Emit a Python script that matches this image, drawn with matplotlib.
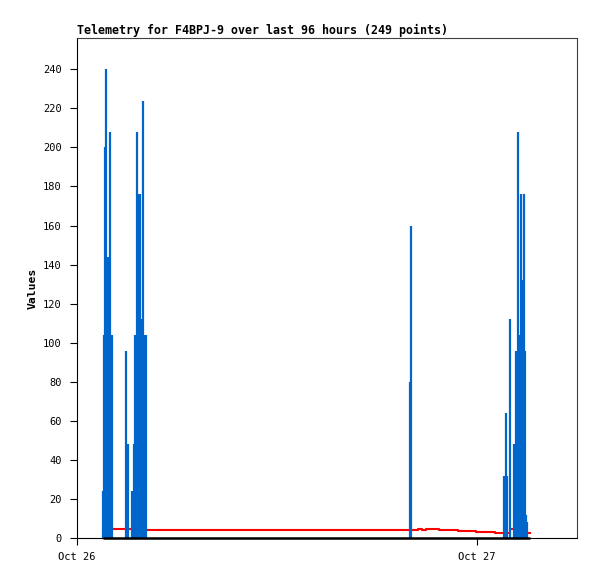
import matplotlib
matplotlib.use("Agg")
import matplotlib.pyplot as plt
import matplotlib.dates as mdates
from datetime import datetime

# telemetry samples (impulses, blue)
pulse_times = [
    "2023-10-26 01:34", "2023-10-26 01:37", "2023-10-26 01:40", "2023-10-26 01:43",
    "2023-10-26 01:46", "2023-10-26 01:49", "2023-10-26 01:52", "2023-10-26 01:55",
    "2023-10-26 01:59", "2023-10-26 02:03", "2023-10-26 02:06",
    "2023-10-26 02:58", "2023-10-26 03:03",
    "2023-10-26 03:19", "2023-10-26 03:24", "2023-10-26 03:28", "2023-10-26 03:33",
    "2023-10-26 03:37", "2023-10-26 03:42", "2023-10-26 03:46", "2023-10-26 03:51",
    "2023-10-26 03:54", "2023-10-26 03:59", "2023-10-26 04:03", "2023-10-26 04:07",
    "2023-10-26 19:58", "2023-10-26 20:03",
    "2023-10-27 01:39", "2023-10-27 01:44", "2023-10-27 01:49", "2023-10-27 01:58",
    "2023-10-27 02:15", "2023-10-27 02:19", "2023-10-27 02:23", "2023-10-27 02:28",
    "2023-10-27 02:33", "2023-10-27 02:37", "2023-10-27 02:42", "2023-10-27 02:46",
    "2023-10-27 02:49", "2023-10-27 02:54", "2023-10-27 02:57", "2023-10-27 03:01",
]
pulse_values = [
    24, 104, 200, 104, 240, 40, 144, 104, 208, 104, 104,
    96, 48,
    24, 48, 104, 104, 208, 176, 176, 104, 112, 224, 104, 104,
    80, 160,
    32, 64, 32, 112, 48, 96, 96, 208, 104, 176, 132, 96, 176, 96, 12, 8,
]

# second channel (red line)
red_times = [
    "2023-10-26 01:32", "2023-10-26 04:07", "2023-10-26 20:28", "2023-10-26 20:42",
    "2023-10-26 20:49", "2023-10-26 20:57", "2023-10-26 21:44", "2023-10-26 22:52",
    "2023-10-26 23:57", "2023-10-27 01:06", "2023-10-27 02:00", "2023-10-27 02:52",
    "2023-10-27 03:12",
]
red_values = [4.8, 4.0, 4.8, 4.0, 4.0, 4.8, 4.3, 3.6, 3.1, 2.6, 4.4, 2.7, 2.7]

# third channel (always zero, black)
zero_times = ["2023-10-26 01:32", "2023-10-27 03:12"]
zero_values = [0, 0]

x_start = "2023-10-26 00:00"
x_end = "2023-10-27 06:00"


def to_dt(lst):
    return [datetime.strptime(s, "%Y-%m-%d %H:%M") for s in lst]


font = "DejaVu Sans Mono"

fig = plt.figure(figsize=(5.97, 5.79), dpi=100)
ax = fig.add_axes([77 / 597, 1 - 538 / 579, 500 / 597, 500 / 579])

ax.plot(to_dt(red_times), red_values, color="#ff0000", lw=1.5,
        drawstyle="steps-post", zorder=2)
ax.vlines(to_dt(pulse_times), 0, pulse_values, color="#0066cc", lw=1.6, zorder=3)
ax.plot(to_dt(zero_times), zero_values, color="black", lw=1.8, zorder=4,
        clip_on=False, solid_capstyle="butt")

ax.set_xlim(to_dt([x_start, x_end]))
ax.set_ylim(0, 256)
ax.set_yticks(range(0, 241, 20))
ax.xaxis.set_major_locator(mdates.DayLocator())
ax.xaxis.set_major_formatter(mdates.DateFormatter("%b %d"))

ax.tick_params(direction="out", length=5, width=0.8, labelsize=7.5,
               colors="black")
ax.tick_params(axis="x", pad=5)
ax.tick_params(axis="y", pad=6)
for lab in ax.get_xticklabels() + ax.get_yticklabels():
    lab.set_fontfamily(font)

for side in ["top", "right"]:
    ax.spines[side].set_color("#404040")
for side in ax.spines:
    ax.spines[side].set_linewidth(0.8)
ax.spines["left"].set_color("black")
ax.spines["bottom"].set_color("black")

ax.set_title("Telemetry for F4BPJ-9 over last 96 hours (249 points)",
             loc="left", fontfamily=font, fontweight="bold", fontsize=8.35, pad=3)
ax.set_ylabel("Values", fontfamily=font, fontweight="bold", fontsize=8.2,
              labelpad=4)

fig.savefig("out.png", dpi=100)
